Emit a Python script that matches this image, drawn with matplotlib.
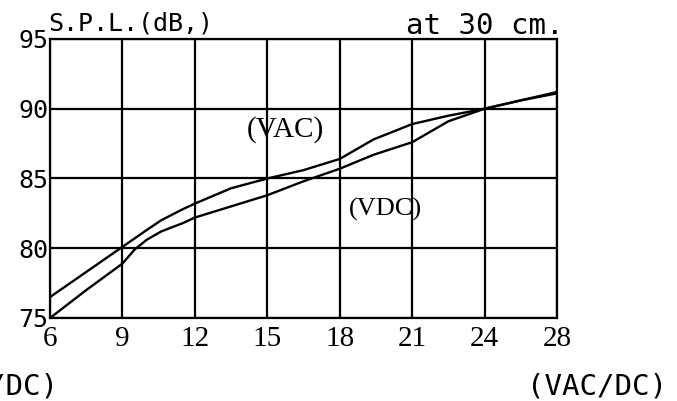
import numpy as np
import matplotlib.pyplot as plt

# x ticks are evenly spaced even though 24 -> 28 is a bigger step
volt_ticks = [6, 9, 12, 15, 18, 21, 24, 28]
spl_ticks = [75, 80, 85, 90, 95]

volts = [6, 7.5, 9, 9.5, 10, 10.6, 11.5, 12, 13.5, 15, 16.5, 18, 19.4, 21, 22.5, 24, 26, 28]
spl_vac = [76.5, 78.3, 80.1, 80.7, 81.3, 82.0, 82.8, 83.2, 84.3, 85.0, 85.6, 86.4, 87.8, 88.9, 89.5, 90.0, 90.6, 91.2]
spl_vdc = [75.0, 77.0, 78.9, 79.9, 80.6, 81.2, 81.8, 82.2, 83.0, 83.8, 84.8, 85.7, 86.7, 87.6, 89.1, 90.0, 90.6, 91.1]

pos = np.arange(len(volt_ticks))


def fwd(x):
    return np.interp(x, volt_ticks, pos)


def inv(p):
    return np.interp(p, pos, volt_ticks)


fig = plt.figure(figsize=(6.77, 4.01), dpi=100)
ax = fig.add_axes([0.0739, 0.207, 0.7489, 0.6958])

ax.set_xscale("function", functions=(fwd, inv))
ax.plot(volts, spl_vac, color="black", lw=1.7)
ax.plot(volts, spl_vdc, color="black", lw=1.7)

ax.set_xlim(6, 28)
ax.set_ylim(75, 95)
ax.set_xticks(volt_ticks)
ax.set_xticklabels([str(v) for v in volt_ticks], family="Liberation Serif", fontsize=21)
ax.set_yticks(spl_ticks)
ax.set_yticklabels([str(v) for v in spl_ticks], family="DejaVu Sans Mono", fontsize=18)
ax.tick_params(length=0, pad=1)
ax.tick_params(axis="x", pad=6)
ax.grid(True, color="black", lw=1.6)
for s in ax.spines.values():
    s.set_linewidth(1.6)

ax.text(15.75, 88.5, "(VAC)", family="Liberation Serif", fontsize=21, ha="center", va="center")
ax.text(19.9, 82.75, "(VDC)", family="Liberation Serif", fontsize=19, ha="center", va="center")

fig.text(0.071, 0.925, "S.P.L.(dB,)", family="DejaVu Sans Mono", fontsize=18)
fig.text(0.6, 0.915, "at 30 cm.", family="DejaVu Sans Mono", fontsize=21)
fig.text(0.985, 0.015, "(VAC/DC)", family="DejaVu Sans Mono", fontsize=21, ha="right")
fig.text(0.085, 0.015, "(VAC/DC)", family="DejaVu Sans Mono", fontsize=21, ha="right")

fig.savefig("out.png", dpi=100)
